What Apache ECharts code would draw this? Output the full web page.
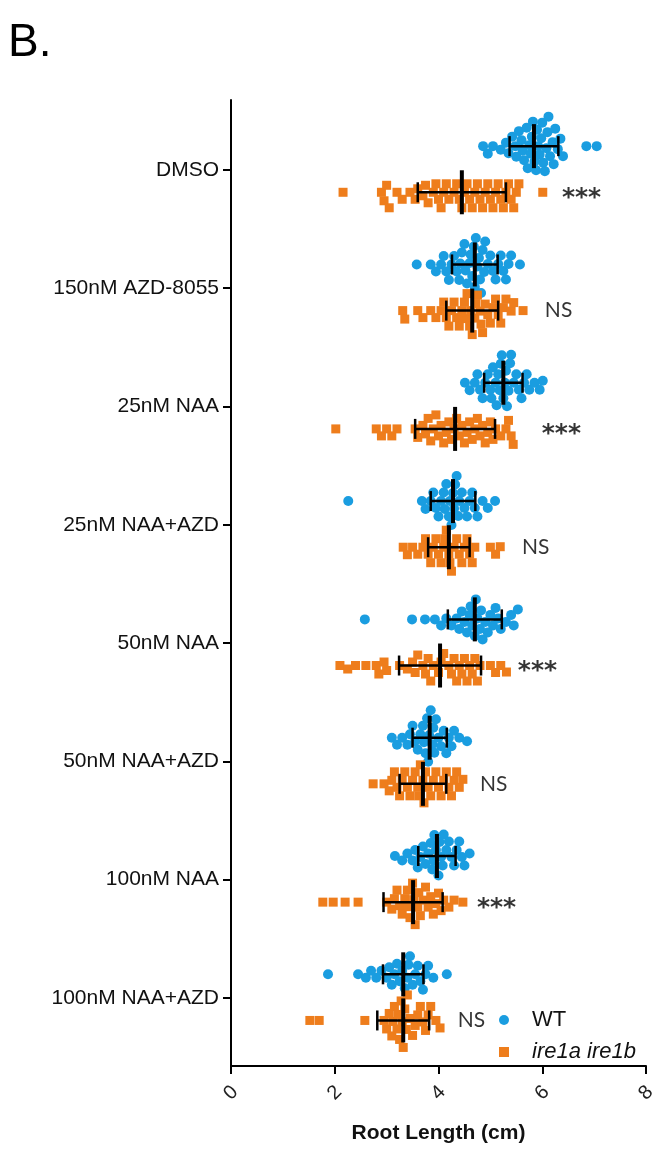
<!DOCTYPE html>
<html>
<head>
<meta charset="utf-8">
<script src="https://cdn.jsdelivr.net/npm/echarts@6/dist/echarts.min.js"></script>
<style>
  html, body { margin: 0; padding: 0; background: #fff; }
  #chart { width: 670px; height: 1153px; }
</style>
</head>
<body>
<div id="chart"></div>
<script>
// treatments, top to bottom
var categories = ['DMSO', '150nM AZD-8055', '25nM NAA', '25nM NAA+AZD',
  '50nM NAA', '50nM NAA+AZD', '100nM NAA', '100nM NAA+AZD'];
var xTicks = [0, 2, 4, 6, 8];

// root lengths (cm), one array per treatment
var wtDMSO = [4.86, 4.95, 5.05, 5.2, 5.3, 5.35, 5.42, 5.48, 5.5, 5.55, 5.6, 5.62, 5.65, 5.7, 5.72, 5.75, 5.78, 5.8, 5.82, 5.85, 5.88, 5.9, 5.92, 5.95, 5.98, 6.0, 6.02, 6.05, 6.08, 6.1, 6.12, 6.15, 6.2, 6.22, 6.25, 6.3, 6.35, 6.4, 6.85, 7.05];
var wtAZD = [3.58, 3.85, 3.95, 4.05, 4.1, 4.15, 4.2, 4.25, 4.3, 4.35, 4.4, 4.42, 4.45, 4.5, 4.52, 4.55, 4.6, 4.62, 4.65, 4.68, 4.7, 4.72, 4.75, 4.78, 4.8, 4.82, 4.85, 4.88, 4.9, 4.95, 5.0, 5.05, 5.1, 5.15, 5.2, 5.25, 5.3, 5.35, 5.4, 5.57];
var wtNAA25 = [4.51, 4.6, 4.7, 4.75, 4.8, 4.85, 4.9, 4.95, 5.0, 5.02, 5.05, 5.1, 5.12, 5.15, 5.18, 5.2, 5.22, 5.25, 5.28, 5.3, 5.32, 5.35, 5.38, 5.4, 5.45, 5.5, 5.55, 5.6, 5.65, 5.7, 5.75, 5.85, 5.95, 6.01];
var wtNAA25AZD = [2.26, 3.68, 3.75, 3.85, 3.9, 3.95, 4.0, 4.05, 4.1, 4.12, 4.15, 4.2, 4.22, 4.25, 4.28, 4.3, 4.32, 4.35, 4.38, 4.4, 4.45, 4.5, 4.55, 4.6, 4.65, 4.7, 4.75, 4.85, 4.95, 5.09];
var wtNAA50 = [2.58, 3.49, 3.74, 3.93, 4.05, 4.15, 4.25, 4.35, 4.4, 4.45, 4.5, 4.55, 4.6, 4.62, 4.65, 4.7, 4.72, 4.75, 4.8, 4.82, 4.85, 4.9, 4.95, 5.0, 5.05, 5.1, 5.15, 5.2, 5.3, 5.4, 5.45, 5.53];
var wtNAA50AZD = [3.1, 3.2, 3.3, 3.4, 3.45, 3.5, 3.55, 3.6, 3.65, 3.7, 3.72, 3.75, 3.78, 3.8, 3.82, 3.85, 3.88, 3.9, 3.92, 3.95, 4.0, 4.05, 4.1, 4.15, 4.2, 4.25, 4.3, 4.4, 4.55];
var wtNAA100 = [3.16, 3.3, 3.4, 3.5, 3.55, 3.6, 3.65, 3.7, 3.75, 3.8, 3.85, 3.88, 3.9, 3.92, 3.95, 4.0, 4.02, 4.05, 4.08, 4.1, 4.15, 4.2, 4.25, 4.3, 4.35, 4.4, 4.45, 4.5, 4.6];
var wtNAA100AZD = [1.87, 2.45, 2.6, 2.7, 2.8, 2.9, 3.0, 3.05, 3.1, 3.15, 3.2, 3.25, 3.3, 3.35, 3.4, 3.42, 3.45, 3.5, 3.55, 3.6, 3.65, 3.7, 3.75, 3.8, 3.9, 4.16];

var mutDMSO = [2.16, 2.9, 2.95, 3.0, 3.05, 3.2, 3.3, 3.45, 3.55, 3.6, 3.7, 3.75, 3.8, 3.9, 3.95, 4.0, 4.05, 4.1, 4.15, 4.2, 4.3, 4.35, 4.4, 4.45, 4.5, 4.55, 4.6, 4.65, 4.7, 4.75, 4.8, 4.85, 4.9, 4.95, 5.0, 5.05, 5.1, 5.15, 5.2, 5.25, 5.3, 5.35, 5.4, 5.45, 5.5, 5.55, 6.01];
var mutAZD = [3.31, 3.35, 3.6, 3.7, 3.85, 3.95, 4.05, 4.1, 4.15, 4.2, 4.25, 4.3, 4.35, 4.4, 4.45, 4.5, 4.52, 4.55, 4.6, 4.62, 4.65, 4.7, 4.72, 4.75, 4.8, 4.82, 4.85, 4.9, 4.95, 5.0, 5.05, 5.1, 5.15, 5.2, 5.25, 5.3, 5.4, 5.45, 5.63];
var mutNAA25 = [2.02, 2.8, 2.9, 3.0, 3.1, 3.2, 3.55, 3.6, 3.7, 3.75, 3.8, 3.85, 3.9, 3.95, 4.0, 4.05, 4.1, 4.15, 4.2, 4.25, 4.3, 4.35, 4.4, 4.45, 4.5, 4.55, 4.6, 4.65, 4.7, 4.75, 4.8, 4.85, 4.9, 4.95, 5.0, 5.05, 5.1, 5.2, 5.3, 5.35, 5.4, 5.44];
var mutNAA25AZD = [3.32, 3.4, 3.5, 3.6, 3.7, 3.75, 3.8, 3.85, 3.9, 3.95, 4.0, 4.05, 4.1, 4.12, 4.15, 4.2, 4.22, 4.25, 4.3, 4.35, 4.4, 4.45, 4.5, 4.55, 4.6, 4.65, 4.7, 5.0, 5.1, 5.19];
var mutNAA50 = [2.1, 2.25, 2.4, 2.6, 2.8, 2.85, 2.95, 3.0, 3.25, 3.4, 3.5, 3.55, 3.6, 3.7, 3.75, 3.8, 3.85, 3.9, 4.0, 4.05, 4.1, 4.2, 4.25, 4.3, 4.35, 4.4, 4.45, 4.5, 4.55, 4.6, 4.65, 4.7, 4.75, 4.8, 5.0, 5.1, 5.2, 5.31];
var mutNAA50AZD = [2.74, 2.95, 3.05, 3.1, 3.15, 3.2, 3.25, 3.3, 3.35, 3.4, 3.45, 3.5, 3.55, 3.6, 3.62, 3.65, 3.7, 3.72, 3.75, 3.8, 3.85, 3.9, 3.95, 4.0, 4.05, 4.1, 4.15, 4.2, 4.25, 4.3, 4.35, 4.4, 4.47];
var mutNAA100 = [1.77, 1.97, 2.2, 2.45, 3.0, 3.1, 3.15, 3.2, 3.25, 3.3, 3.35, 3.4, 3.42, 3.45, 3.5, 3.52, 3.55, 3.6, 3.62, 3.65, 3.7, 3.75, 3.8, 3.85, 3.9, 3.95, 4.0, 4.05, 4.1, 4.2, 4.3, 4.47];
var mutNAA100AZD = [1.52, 1.7, 2.58, 2.95, 3.0, 3.05, 3.1, 3.12, 3.15, 3.2, 3.22, 3.25, 3.28, 3.3, 3.32, 3.35, 3.38, 3.4, 3.45, 3.5, 3.55, 3.6, 3.65, 3.7, 3.75, 3.8, 3.85, 3.95, 4.03];

var wtGroups = [wtDMSO, wtAZD, wtNAA25, wtNAA25AZD, wtNAA50, wtNAA50AZD, wtNAA100, wtNAA100AZD];
var mutGroups = [mutDMSO, mutAZD, mutNAA25, mutNAA25AZD, mutNAA50, mutNAA50AZD, mutNAA100, mutNAA100AZD];

// mean +- SD bars as drawn
var wtMean = [5.84, 4.70, 5.25, 4.28, 4.70, 3.83, 3.97, 3.32];
var wtSD = [0.47, 0.44, 0.37, 0.43, 0.52, 0.33, 0.36, 0.39];
var mutMean = [4.45, 4.65, 4.32, 4.20, 4.03, 3.70, 3.51, 3.32];
var mutSD = [0.85, 0.50, 0.77, 0.40, 0.79, 0.45, 0.57, 0.50];

// significance marks next to the mutant rows
var sigText = ['***', 'NS', '***', 'NS', '***', 'NS', '***', 'NS'];
var sigX = [6.38, 6.05, 5.99, 5.61, 5.53, 4.80, 4.74, 4.37];

var BLUE = '#1a9de0';
var ORANGE = '#ee7d1c';

// plot geometry
var GRID = { left: 231, right: 24, top: 100, bottom: 87 };
var Y_MIN = -0.59, Y_MAX = 7.575;
var WT_OFF = -0.2, MUT_OFF = 0.19;
var pxX = (670 - GRID.left - GRID.right) / 8;
var pxY = (1153 - GRID.top - GRID.bottom) / (Y_MAX - Y_MIN);

// simple beeswarm: spread points vertically so they don't pile up
function swarm(vals, rowY, d) {
  var placed = [];
  var out = [];
  vals.slice().sort(function (a, b) { return a - b; }).forEach(function (v) {
    var x = v * pxX, dy = 0;
    for (var s = 0; s < 400; s++) {
      var found = false;
      var cands = s === 0 ? [0] : [s * 0.5, -s * 0.5];
      for (var c = 0; c < cands.length; c++) {
        var ok = placed.every(function (p) {
          var ddx = p[0] - x, ddy = p[1] - cands[c];
          return ddx * ddx + ddy * ddy >= d * d;
        });
        if (ok) { dy = cands[c]; found = true; break; }
      }
      if (found) break;
    }
    placed.push([x, dy]);
    out.push([v, rowY + dy / pxY]);
  });
  return out;
}

var wtPoints = [], mutPoints = [], bars = [], sigData = [];
for (var i = 0; i < categories.length; i++) {
  wtPoints = wtPoints.concat(swarm(wtGroups[i], i + WT_OFF, 8.5));
  mutPoints = mutPoints.concat(swarm(mutGroups[i], i + MUT_OFF, 8.5));
  bars.push([wtMean[i], wtSD[i], i + WT_OFF]);
  bars.push([mutMean[i], mutSD[i], i + MUT_OFF]);
  var stars = sigText[i] === '***';
  sigData.push({
    value: [sigX[i], i + MUT_OFF, sigText[i]],
    label: stars
      ? { fontSize: 25, fontWeight: 'bold', fontFamily: 'DejaVu Sans, sans-serif', offset: [0, 6] }
      : { fontSize: 21, fontFamily: 'Lato, sans-serif', offset: [0, 0] }
  });
}

function renderBar(params, api) {
  var m = api.value(0), sd = api.value(1), y = api.value(2);
  var l = api.coord([m - sd, y]), r = api.coord([m + sd, y]), c = api.coord([m, y]);
  var st = { stroke: '#000', lineWidth: 2.5 };
  return {
    type: 'group',
    children: [
      { type: 'line', shape: { x1: l[0], y1: l[1], x2: r[0], y2: r[1] }, style: st },
      { type: 'line', shape: { x1: l[0], y1: l[1] - 10, x2: l[0], y2: l[1] + 10 }, style: st },
      { type: 'line', shape: { x1: r[0], y1: r[1] - 10, x2: r[0], y2: r[1] + 10 }, style: st },
      { type: 'line', shape: { x1: c[0], y1: c[1] - 22, x2: c[0], y2: c[1] + 22 }, style: { stroke: '#000', lineWidth: 4 } }
    ]
  };
}

var chart = echarts.init(document.getElementById('chart'));
chart.setOption({
  animation: false,
  backgroundColor: '#fff',
  textStyle: { fontFamily: 'Liberation Sans, Arial, sans-serif' },
  graphic: [{
    type: 'text', left: 8, top: 20,
    style: { text: 'B.', fontSize: 46, fill: '#000', fontFamily: 'Liberation Sans, Arial, sans-serif' }
  }],
  grid: { left: GRID.left, right: GRID.right, top: GRID.top, bottom: GRID.bottom, outerBoundsMode: 'none' },
  legend: {
    orient: 'vertical', left: 494, top: 1004,
    itemWidth: 10, itemHeight: 10, itemGap: 10,
    data: ['WT', 'ire1a ire1b'],
    formatter: function (name) {
      return name === 'WT' ? '{n|' + name + '}' : '{i|' + name + '}';
    },
    textStyle: {
      rich: {
        n: { fontSize: 22, color: '#111', padding: [0, 0, 0, 18] },
        i: { fontSize: 22, color: '#111', fontStyle: 'italic', padding: [0, 0, 0, 18] }
      }
    }
  },
  xAxis: {
    type: 'value', min: 0, max: 8, interval: 2,
    axisLine: { show: true, onZero: false, lineStyle: { color: '#000', width: 2 } },
    axisTick: { show: true, length: 8, lineStyle: { color: '#000', width: 2 } },
    axisLabel: {
      rotate: 45, fontSize: 20, color: '#222', margin: 27,
      align: 'center', verticalAlign: 'middle',
      customValues: xTicks
    },
    splitLine: { show: false },
    name: 'Root Length (cm)', nameLocation: 'middle', nameGap: 57,
    nameTextStyle: { fontSize: 21, fontWeight: 'bold', color: '#111' }
  },
  yAxis: {
    type: 'value', inverse: true, min: Y_MIN, max: Y_MAX,
    axisLine: { show: true, onZero: false, lineStyle: { color: '#000', width: 2 } },
    axisTick: {
      show: true, length: 8, lineStyle: { color: '#000', width: 2 },
      customValues: categories.map(function (c, k) { return k; })
    },
    axisLabel: {
      fontSize: 21, color: '#111', margin: 12,
      customValues: categories.map(function (c, k) { return k; }),
      formatter: function (v) { return categories[Math.round(v)]; }
    },
    splitLine: { show: false }
  },
  series: [
    {
      name: 'WT', type: 'scatter', symbol: 'circle', symbolSize: 10,
      itemStyle: { color: BLUE, opacity: 1 }, data: wtPoints, z: 2
    },
    {
      name: 'ire1a ire1b', type: 'scatter', symbol: 'rect', symbolSize: 9,
      itemStyle: { color: ORANGE, opacity: 1 }, data: mutPoints, z: 2
    },
    {
      name: 'bars', type: 'custom', renderItem: renderBar, data: bars, z: 5,
      encode: { x: 0, y: 2 }
    },
    {
      name: 'sig', type: 'scatter', symbolSize: 0, data: sigData, z: 6,
      label: {
        show: true, position: 'right', distance: 0, color: '#000',
        formatter: function (p) { return p.value[2]; }
      }
    }
  ]
});
</script>
</body>
</html>
